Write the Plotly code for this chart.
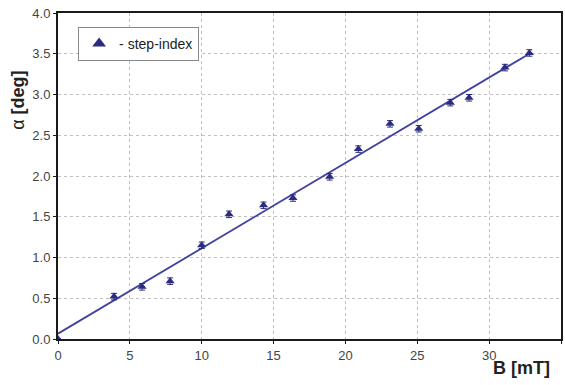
import numpy as np
import plotly.graph_objects as go

# Data
B_mT = [0.0, 3.9, 5.85, 7.8, 10.0, 11.9, 14.3, 16.35, 18.9, 20.9, 23.1, 25.1, 27.3, 28.6, 31.1, 32.8]
alpha_deg = [0.0, 0.52, 0.64, 0.71, 1.15, 1.53, 1.64, 1.73, 1.99, 2.33, 2.64, 2.58, 2.90, 2.96, 3.33, 3.51]
alpha_err = [0.0, 0.04, 0.04, 0.04, 0.04, 0.04, 0.04, 0.04, 0.04, 0.04, 0.04, 0.04, 0.04, 0.04, 0.04, 0.04]
x_ticks = [0, 5, 10, 15, 20, 25, 30, 35]
y_ticks = [0.0, 0.5, 1.0, 1.5, 2.0, 2.5, 3.0, 3.5, 4.0]

# linear fit through data
slope, intercept = np.polyfit(B_mT, alpha_deg, 1)
fit_x = [0.0, max(B_mT)]
fit_y = [intercept + slope * v for v in fit_x]

navy = "#2b2b80"
line_col = "#4040a0"

fig = go.Figure()
fig.add_trace(go.Scatter(
    x=fit_x, y=fit_y, mode="lines",
    line=dict(color=line_col, width=1.8),
    showlegend=False, hoverinfo="skip"))
fig.add_trace(go.Scatter(
    x=B_mT, y=alpha_deg, mode="markers", name="- step-index",
    marker=dict(symbol="triangle-up", size=8, color=navy),
    error_y=dict(type="data", array=alpha_err, visible=True,
                 color=navy, thickness=1, width=3)))

axis_common = dict(
    showline=True, linecolor="#1a1a1a", linewidth=2, mirror=True,
    showgrid=True, gridcolor="#c0c0c0", griddash="dot", gridwidth=1,
    ticks="outside", ticklen=3, tickcolor="#1a1a1a",
    tickfont=dict(family="Liberation Sans, Arial", size=13, color="#444444"),
    zeroline=False, automargin=False,
)

fig.update_layout(
    width=565, height=385,
    margin=dict(l=58, r=4, t=13, b=46),
    paper_bgcolor="white", plot_bgcolor="white",
    xaxis=dict(range=[0, 35], tickvals=x_ticks, **axis_common),
    yaxis=dict(range=[0, 4.0], tickvals=y_ticks, tickformat=".1f", **axis_common),
    legend=dict(
        x=0.04, y=0.957, xanchor="left", yanchor="top",
        bgcolor="white", bordercolor="#888888", borderwidth=1,
        font=dict(family="Liberation Sans, Arial", size=14, color="#222222"),
        itemsizing="constant",
    ),
    annotations=[
        dict(text="α <b>[deg]</b>", xref="paper", yref="paper",
             x=-0.08, y=0.733, textangle=-90, showarrow=False,
             xanchor="center", yanchor="middle",
             font=dict(family="Liberation Sans, Arial", size=18, color="#222222")),
        dict(text="<b>B [mT]</b>", xref="paper", yref="paper",
             x=0.982, y=-0.052, showarrow=False,
             xanchor="right", yanchor="top",
             font=dict(family="Liberation Sans, Arial", size=18, color="#222222")),
    ],
)

fig.write_html(
    "out.html",
    config={"displayModeBar": False},
    post_script="document.body.style.margin='0';document.body.style.padding='0';",
)
